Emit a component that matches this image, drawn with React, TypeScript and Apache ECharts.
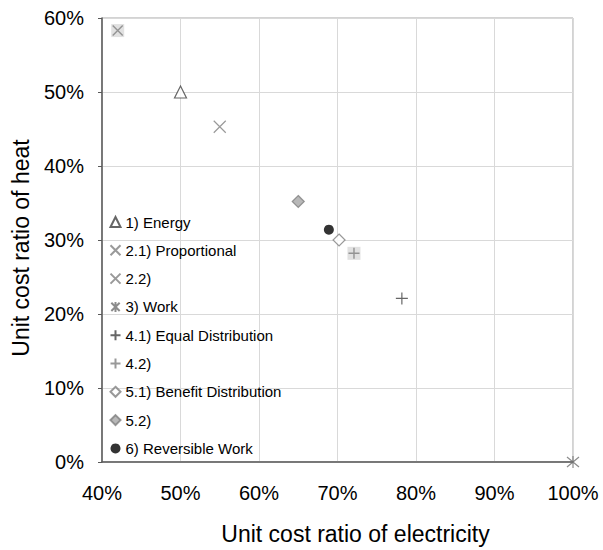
import React, { useEffect, useRef } from 'react';
import * as echarts from 'echarts';

const seriesNames = [
  '1) Energy',
  '2.1) Proportional',
  '2.2)',
  '3) Work',
  '4.1) Equal Distribution',
  '4.2)',
  '5.1) Benefit Distribution',
  '5.2)',
  '6) Reversible Work',
];
const electricityRatio = [50, 55, 42, 100, 78.2, 72.1, 70.2, 65, 68.9];
const heatRatio = [50, 45.3, 58.3, 0, 22.1, 28.2, 30, 35.2, 31.4];
const boxedSeries = ['2.2)', '4.2)'];
const xAxisRange = [40, 100];
const yAxisRange = [0, 60];
const tickStep = 10;

const X_PATH = 'path://M0,0L10,10M10,0L0,10';
const ASTERISK_PATH = 'path://M0,0L10,10M10,0L0,10M5,-1L5,11';
const PLUS_PATH = 'path://M5,0L5,10M0,5L10,5';

const styles: Record<string, any> = {
  '1) Energy': { symbol: 'triangle', size: 12, itemStyle: { color: '#ffffff', borderColor: '#404040', borderWidth: 1.2 } },
  '2.1) Proportional': { symbol: X_PATH, size: 12, itemStyle: { color: 'none', borderColor: '#7f7f7f', borderWidth: 1.2 } },
  '2.2)': { symbol: X_PATH, size: 10, itemStyle: { color: 'none', borderColor: '#7f7f7f', borderWidth: 1.4 } },
  '3) Work': { symbol: ASTERISK_PATH, size: 12, itemStyle: { color: 'none', borderColor: '#6f6f6f', borderWidth: 1.2 } },
  '4.1) Equal Distribution': { symbol: PLUS_PATH, size: 12, itemStyle: { color: 'none', borderColor: '#404040', borderWidth: 1.2 } },
  '4.2)': { symbol: PLUS_PATH, size: 11, itemStyle: { color: 'none', borderColor: '#7f7f7f', borderWidth: 1.4 } },
  '5.1) Benefit Distribution': { symbol: 'diamond', size: 12, itemStyle: { color: '#ffffff', borderColor: '#7f7f7f', borderWidth: 1.2 } },
  '5.2)': { symbol: 'diamond', size: 12, itemStyle: { color: '#a6a6a6', borderColor: '#808080', borderWidth: 1.2 } },
  '6) Reversible Work': { symbol: 'circle', size: 10, itemStyle: { color: '#000000', borderColor: '#000000', borderWidth: 0 } },
};

export default function App() {
  const ref = useRef<HTMLDivElement>(null);

  useEffect(() => {
    if (!ref.current) return;
    const chart = echarts.init(ref.current, null, { renderer: 'svg' });
    const font = 'Liberation Sans, Arial, sans-serif';

    const boxSeries = {
      name: '__box',
      type: 'scatter',
      silent: true,
      clip: false,
      symbol: 'rect',
      symbolSize: 13,
      z: 1,
      itemStyle: { color: '#d9d9d9' },
      data: seriesNames
        .map((n, i) => (boxedSeries.includes(n) ? [electricityRatio[i], heatRatio[i]] : null))
        .filter((d) => d !== null),
    };

    const mainSeries = seriesNames.map((name, i) => ({
      name,
      type: 'scatter',
      clip: false,
      z: 3,
      symbol: styles[name].symbol,
      symbolSize: styles[name].size,
      itemStyle: styles[name].itemStyle,
      data: [[electricityRatio[i], heatRatio[i]]],
    }));

    chart.setOption({
      animation: false,
      backgroundColor: '#ffffff',
      textStyle: { fontFamily: font },
      grid: {
        left: 102,
        right: 30,
        top: 18,
        bottom: 83,
        show: true,
        borderColor: '#a6a6a6',
        borderWidth: 1,
      },
      legend: {
        orient: 'vertical',
        left: 108,
        top: 214,
        padding: 0,
        data: seriesNames,
        itemWidth: 10,
        itemHeight: 10,
        itemGap: 12.3,
        selectedMode: false,
        textStyle: { fontFamily: font, fontSize: 15, color: '#000000', lineHeight: 16 },
      },
      xAxis: {
        type: 'value',
        min: xAxisRange[0],
        max: xAxisRange[1],
        interval: tickStep,
        name: 'Unit cost ratio of electricity',
        nameLocation: 'middle',
        nameGap: 60,
        nameTextStyle: { fontFamily: font, fontSize: 23, color: '#000000', padding: [0, 0, 0, 36] },
        axisLine: { show: true, lineStyle: { color: '#595959', width: 1.5 } },
        axisTick: { show: false },
        axisLabel: { formatter: '{value}%', fontFamily: font, fontSize: 20, color: '#000000', margin: 21 },
        splitLine: { show: true, lineStyle: { color: '#d9d9d9', width: 1 } },
      },
      yAxis: {
        type: 'value',
        min: yAxisRange[0],
        max: yAxisRange[1],
        interval: tickStep,
        name: 'Unit cost ratio of heat',
        nameLocation: 'middle',
        nameGap: 70,
        nameTextStyle: { fontFamily: font, fontSize: 23, color: '#000000', padding: [0, 16, 0, 0] },
        axisLine: { show: true, lineStyle: { color: '#595959', width: 1.5 } },
        axisTick: { show: true, inside: false, length: 4, lineStyle: { color: '#595959' } },
        axisLabel: { formatter: '{value}%', fontFamily: font, fontSize: 20, color: '#000000', margin: 18 },
        splitLine: { show: true, lineStyle: { color: '#d9d9d9', width: 1 } },
      },
      series: [boxSeries, ...mainSeries],
    });

    return () => chart.dispose();
  }, []);

  return (
    <div
      ref={ref}
      style={{ position: 'fixed', left: 0, top: 0, width: 603, height: 550, background: '#fff' }}
    />
  );
}
